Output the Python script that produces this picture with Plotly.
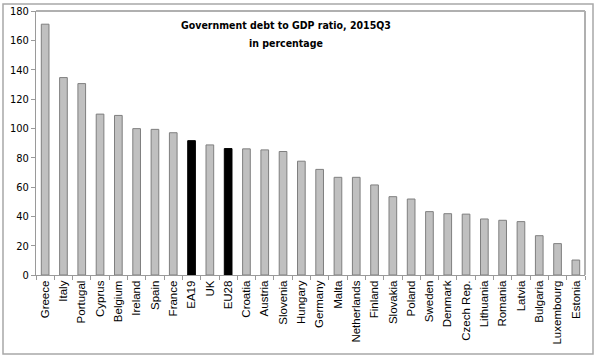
import plotly.graph_objects as go

countries = ["Greece", "Italy", "Portugal", "Cyprus", "Belgium", "Ireland", "Spain", "France",
             "EA19", "UK", "EU28", "Croatia", "Austria", "Slovenia", "Hungary", "Germany",
             "Malta", "Netherlands", "Finland", "Slovakia", "Poland", "Sweden", "Denmark",
             "Czech Rep.", "Lithuania", "Romania", "Latvia", "Bulgaria", "Luxembourg", "Estonia"]
debt_ratio = [171.0, 134.6, 130.5, 109.7, 108.8, 99.8, 99.3, 97.0,
              91.6, 88.7, 86.2, 86.0, 85.3, 84.2, 77.6, 72.0,
              66.6, 66.6, 61.4, 53.4, 51.8, 43.2, 41.8,
              41.5, 38.2, 37.3, 36.4, 26.8, 21.4, 10.2]
aggregates = ["EA19", "EU28"]
y_ticks = [0, 20, 40, 60, 80, 100, 120, 140, 160, 180]

W, H = 597, 357
L, R, T, B = 36, 12, 11, 82
pw, ph = W - L - R, H - T - B

def px_x(p):
    return (p - L) / pw

def px_y(p):
    return (H - B - p) / ph

fill = ["#000000" if c in aggregates else "#c0c0c0" for c in countries]
line = ["#000000" if c in aggregates else "#7f7f7f" for c in countries]

COND = "DejaVu Sans Condensed"

fig = go.Figure(go.Bar(
    x=countries, y=debt_ratio,
    marker=dict(color=fill, line=dict(color=line, width=1)),
    width=0.42,
))

fig.update_layout(
    width=W, height=H,
    margin=dict(l=L, r=R, t=T, b=B, autoexpand=False),
    paper_bgcolor="white", plot_bgcolor="white",
    showlegend=False,
    font=dict(family="Liberation Sans", color="#000000"),
    xaxis=dict(
        tickangle=-90, tickfont=dict(family="Liberation Sans", size=11.5, color="#000"),
        showline=True, linecolor="#9a9a9a", linewidth=1,
        ticks="outside", ticklen=4, tickcolor="#9a9a9a", tickson="boundaries",
        showgrid=False, range=[-0.5, len(countries) - 0.5], automargin=False,
    ),
    yaxis=dict(
        range=[0, 180], tickvals=y_ticks,
        tickfont=dict(family=COND, size=11, color="#000"),
        showline=True, linecolor="#9a9a9a", linewidth=1,
        ticks="outside", ticklen=4, tickcolor="#9a9a9a",
        showgrid=False, zeroline=False, automargin=False,
    ),
    shapes=[
        dict(type="line", xref="paper", yref="paper", x0=0, x1=1, y0=1, y1=1,
             line=dict(color="#b0b0b0", width=2)),
        dict(type="line", xref="paper", yref="paper", x0=1, x1=1, y0=0, y1=1,
             line=dict(color="#b0b0b0", width=2)),
        dict(type="rect", xref="paper", yref="paper",
             x0=px_x(3), x1=px_x(593), y0=px_y(354), y1=px_y(4),
             line=dict(color="#a8a8a8", width=1.5)),
    ],
    annotations=[
        dict(text="<b>Government debt to GDP ratio, 2015Q3</b>",
             xref="paper", yref="paper", x=px_x(286), y=px_y(25),
             xanchor="center", yanchor="middle", showarrow=False,
             font=dict(family=COND, size=10.5, color="#000")),
        dict(text="<b>in percentage</b>",
             xref="paper", yref="paper", x=px_x(286), y=px_y(43),
             xanchor="center", yanchor="middle", showarrow=False,
             font=dict(family=COND, size=10.5, color="#000")),
    ],
)

fig.write_html("out.html", config={"displayModeBar": False},
               post_script="document.body.style.margin='0';")
